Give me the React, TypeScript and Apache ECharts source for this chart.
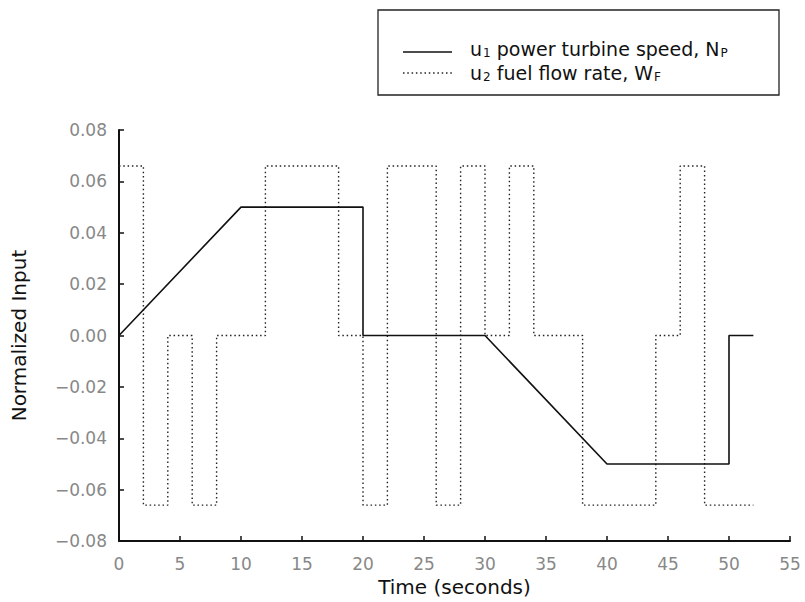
import React, { useEffect, useRef } from "react";
import * as echarts from "echarts";

// Time axis ticks (seconds) and normalized input ticks
const xTicks = [0, 5, 10, 15, 20, 25, 30, 35, 40, 45, 50, 55];
const yTicks = [-0.08, -0.06, -0.04, -0.02, 0, 0.02, 0.04, 0.06, 0.08];

// u1: power turbine speed Np (piecewise linear)
const u1Time = [0, 10, 20, 20, 30, 40, 50, 50, 52];
const u1Value = [0, 0.05, 0.05, 0, 0, -0.05, -0.05, 0, 0];

// u2: fuel flow rate Wf (level held from each switching time to the next)
const u2Time = [0, 2, 4, 6, 8, 12, 18, 20, 22, 26, 28, 30, 32, 34, 38, 44, 46, 48, 52];
const u2Level = [
  0.066, -0.066, 0, -0.066, 0, 0.066, 0, -0.066, 0.066, -0.066, 0.066, 0, 0.066, 0, -0.066, 0,
  0.066, -0.066, -0.066,
];

const FONT = "'DejaVu Sans', sans-serif";

export default function App() {
  const ref = useRef<HTMLDivElement>(null);

  useEffect(() => {
    if (!ref.current) return;
    const chart = echarts.init(ref.current, undefined, { renderer: "svg" });

    const u1 = u1Time.map((t, i) => [t, u1Value[i]]);
    const u2 = u2Time.map((t, i) => [t, u2Level[i]]);

    // Legend labels with subscripts
    const legendRich = {
      n: { fontFamily: FONT, fontSize: 19, lineHeight: 19, fill: "#111" },
      s: {
        fontFamily: FONT,
        fontSize: 12,
        lineHeight: 12,
        verticalAlign: "bottom",
        fill: "#111",
        padding: [0, 0, 0, 1],
      },
    };

    chart.setOption({
      animation: false,
      backgroundColor: "#ffffff",
      grid: { left: 119, right: 15, top: 130, bottom: 59 },
      xAxis: {
        type: "value",
        min: xTicks[0],
        max: xTicks[xTicks.length - 1],
        interval: 5,
        name: "Time (seconds)",
        nameLocation: "middle",
        nameGap: 33,
        nameTextStyle: { fontFamily: FONT, fontSize: 20, color: "#111" },
        axisLine: { onZero: false, lineStyle: { color: "#111", width: 2 } },
        axisTick: { inside: true, length: 5, lineStyle: { color: "#111", width: 1.5 } },
        axisLabel: {
          fontFamily: FONT,
          fontSize: 17,
          color: "#888",
          margin: 14,
          showMinLabel: true,
          showMaxLabel: true,
        },
        splitLine: { show: false },
      },
      yAxis: {
        type: "value",
        min: yTicks[0],
        max: yTicks[yTicks.length - 1],
        interval: 0.02,
        name: "Normalized Input",
        nameLocation: "middle",
        nameGap: 90,
        nameRotate: 90,
        nameTextStyle: { fontFamily: FONT, fontSize: 20, color: "#111" },
        axisLine: { onZero: false, lineStyle: { color: "#111", width: 2 } },
        axisTick: { inside: true, length: 5, lineStyle: { color: "#111", width: 1.5 } },
        axisLabel: {
          fontFamily: FONT,
          fontSize: 17,
          color: "#888",
          margin: 12,
          formatter: (v: number) => (v < 0 ? "\u2212" : "") + Math.abs(v).toFixed(2),
        },
        splitLine: { show: false },
      },
      series: [
        {
          name: "u1",
          type: "line",
          data: u1,
          showSymbol: false,
          lineStyle: { color: "#111", width: 1.6 },
          z: 3,
        },
        {
          name: "u2",
          type: "line",
          data: u2,
          step: "end",
          showSymbol: false,
          lineStyle: { color: "#222", width: 1.4, type: [1.5, 2.8] },
          z: 2,
        },
      ],
      graphic: [
        {
          type: "rect",
          shape: { x: 378, y: 10, width: 401, height: 85 },
          style: { fill: "#fff", stroke: "#222", lineWidth: 1.3 },
        },
        {
          type: "line",
          shape: { x1: 403, y1: 52, x2: 452, y2: 52 },
          style: { stroke: "#111", lineWidth: 1.6 },
        },
        {
          type: "line",
          shape: { x1: 403, y1: 73, x2: 452, y2: 73 },
          style: { stroke: "#222", lineWidth: 1.4, lineDash: [1.5, 2.8] },
        },
        {
          type: "text",
          x: 470,
          y: 49,
          style: {
            text: "{n|u}{s|1}{n| power turbine speed, N}{s|P}",
            verticalAlign: "middle",
            rich: legendRich,
          },
        },
        {
          type: "text",
          x: 470,
          y: 73,
          style: {
            text: "{n|u}{s|2}{n| fuel flow rate, W}{s|F}",
            verticalAlign: "middle",
            rich: legendRich,
          },
        },
      ],
    });

    return () => chart.dispose();
  }, []);

  return (
    <div
      ref={ref}
      style={{ position: "fixed", left: 0, top: 0, width: 805, height: 602 }}
    />
  );
}
